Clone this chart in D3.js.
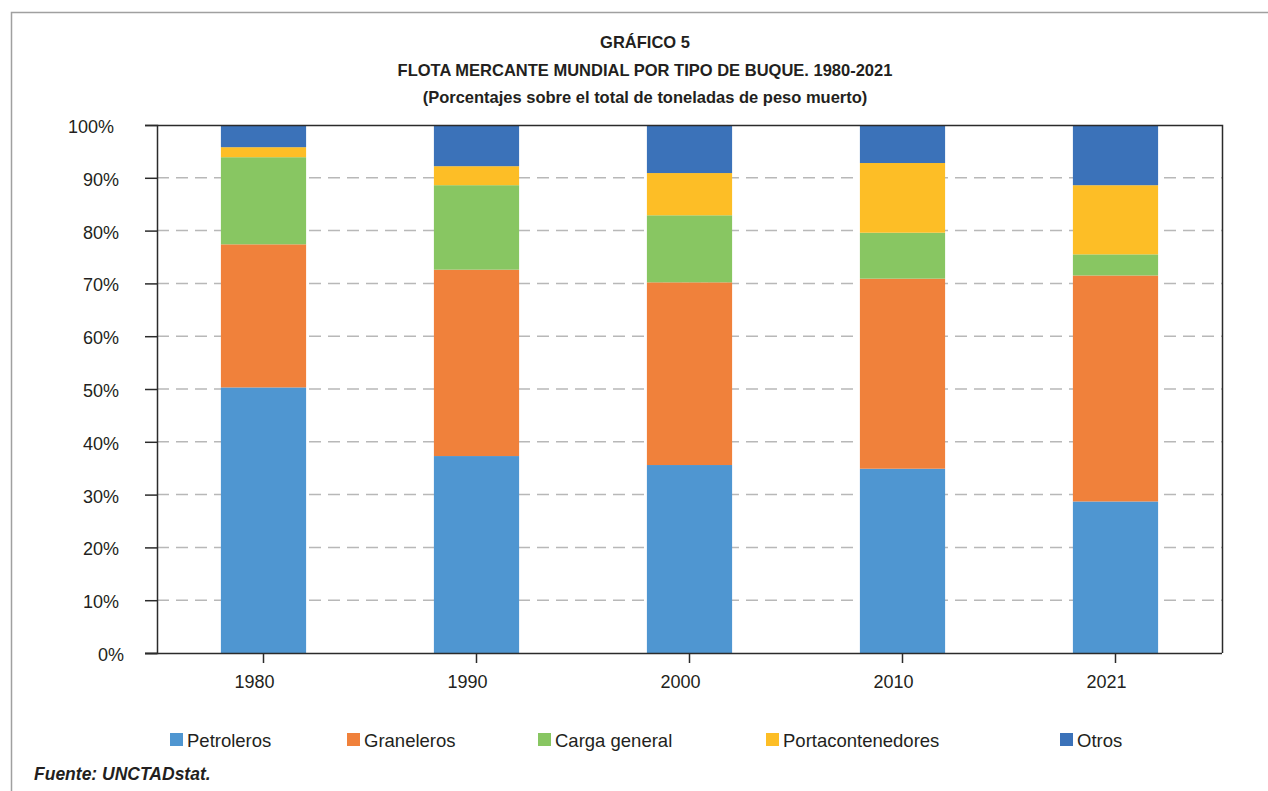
<!DOCTYPE html>
<html>
<head>
<meta charset="utf-8">
<script src="https://cdn.jsdelivr.net/npm/d3@7"></script>
<style>
  body { margin: 0; background: #fff; }
  svg { font-family: "Liberation Sans", Arial, Helvetica, sans-serif; }
</style>
</head>
<body>
<svg id="chart" width="1268" height="791"></svg>
<script>
// data (percent of total dwt)
var years = ["1980", "1990", "2000", "2010", "2021"];
var seriesNames = ["Petroleros", "Graneleros", "Carga general", "Portacontenedores", "Otros"];
var petroleros = [50.3, 37.3, 35.6, 34.9, 28.7];
var graneleros = [27.1, 35.3, 34.6, 36.0, 42.8];
var cargaGeneral = [16.5, 16.0, 12.7, 8.7, 4.0];
var portacontenedores = [1.9, 3.6, 8.0, 13.2, 13.1];
var otros = [4.2, 7.8, 9.1, 7.2, 11.4];
var yTicks = [0, 10, 20, 30, 40, 50, 60, 70, 80, 90, 100];
var colors = ["#4f96d1", "#f0813b", "#88c662", "#fdbe26", "#3b72b9"];

var values = [petroleros, graneleros, cargaGeneral, portacontenedores, otros];
var data = years.map(function (yr, i) {
    var row = { year: yr };
    seriesNames.forEach(function (k, j) { row[k] = values[j][i]; });
    return row;
});

var svg = d3.select("#chart"),
    margin = { top: 125, left: 157, right: 46, bottom: 138 },
    width = 1268 - margin.left - margin.right,
    height = 791 - margin.top - margin.bottom,
    textColor = "#231f20";

// outer frame (top + left gray lines)
svg.append("path")
    .attr("d", "M11.5,800 V12.5 H1270")
    .attr("fill", "none")
    .attr("stroke", "#a0a0a0")
    .attr("stroke-width", 1.5);

// titles
var titles = ["GRÁFICO 5", "FLOTA MERCANTE MUNDIAL POR TIPO DE BUQUE. 1980-2021", "(Porcentajes sobre el total de toneladas de peso muerto)"];
svg.append("g").selectAll("text")
    .data(titles)
    .enter().append("text")
    .attr("x", 645)
    .attr("y", function (d, i) { return 48 + i * 27.5; })
    .attr("text-anchor", "middle")
    .attr("font-size", 16.5)
    .attr("font-weight", "bold")
    .attr("fill", textColor)
    .text(function (d) { return d; });

var g = svg.append("g").attr("transform", "translate(" + margin.left + "," + margin.top + ")");

var x = d3.scaleBand()
    .domain(years)
    .range([0, width])
    .paddingInner(0.6)
    .paddingOuter(0.3);

var y = d3.scaleLinear()
    .domain([0, 100])
    .range([height, 0]);

var color = d3.scaleOrdinal().domain(seriesNames).range(colors);

// dashed gridlines
g.append("g").selectAll("line")
    .data(yTicks.filter(function (t) { return t > 0 && t < 100; }))
    .enter().append("line")
    .attr("x1", 0).attr("x2", width)
    .attr("y1", function (d) { return y(d); })
    .attr("y2", function (d) { return y(d); })
    .attr("stroke", "#b8b8b8")
    .attr("stroke-width", 1.5)
    .attr("stroke-dasharray", "12,7");

// stacked bars
var stacked = d3.stack().keys(seriesNames)(data);
g.append("g").selectAll("g")
    .data(stacked)
    .enter().append("g")
    .attr("fill", function (d) { return color(d.key); })
    .selectAll("rect")
    .data(function (d) { return d; })
    .enter().append("rect")
    .attr("x", function (d) { return x(d.data.year); })
    .attr("y", function (d) { return y(d[1]); })
    .attr("height", function (d) { return y(d[0]) - y(d[1]); })
    .attr("width", x.bandwidth());

// plot box: top and right border
g.append("path")
    .attr("d", "M0,0.5 H" + (width + 0.5) + " V" + height)
    .attr("fill", "none")
    .attr("stroke", "#2b2b2b")
    .attr("stroke-width", 1.5);

// y axis
var axisY = g.append("g")
    .call(d3.axisLeft(y).tickValues(yTicks).tickSize(12).tickPadding(26)
        .tickFormat(function (d) { return d + "%"; }));
axisY.select(".domain").attr("stroke", "#2b2b2b").attr("stroke-width", 1.5);
axisY.selectAll(".tick line").attr("stroke", "#2b2b2b").attr("stroke-width", 1.5);
axisY.selectAll("text").attr("font-size", 18).attr("fill", textColor)
    .attr("font-family", "Liberation Sans, Arial, sans-serif")
    .attr("dx", function (d) { return d === 100 ? -5 : (d === 0 ? 5 : 0); })
    .attr("dy", "0.42em");

// x axis
var axisX = g.append("g")
    .attr("transform", "translate(0," + height + ")")
    .call(d3.axisBottom(x).tickSize(10).tickPadding(12).tickSizeOuter(0));
axisX.select(".domain").attr("stroke", "#2b2b2b").attr("stroke-width", 1.5)
    .attr("d", "M-12,0.5H" + width);
axisX.selectAll(".tick line").attr("stroke", "#2b2b2b").attr("stroke-width", 1.5);
axisX.selectAll("text").attr("font-size", 18).attr("fill", textColor)
    .attr("font-family", "Liberation Sans, Arial, sans-serif")
    .attr("dx", -9);

// legend
var legendX = [170, 347, 538, 766, 1060];
var legend = svg.append("g").selectAll("g")
    .data(seriesNames)
    .enter().append("g")
    .attr("transform", function (d, i) { return "translate(" + legendX[i] + ",733)"; });

legend.append("rect")
    .attr("width", 13)
    .attr("height", 13)
    .attr("fill", color);

legend.append("text")
    .attr("x", 17)
    .attr("y", 13.5)
    .attr("font-size", 18.5)
    .attr("fill", textColor)
    .text(function (d) { return d; });

// source
svg.append("text")
    .attr("x", 34)
    .attr("y", 780)
    .attr("font-size", 17.5)
    .attr("font-weight", "bold")
    .attr("font-style", "italic")
    .attr("fill", textColor)
    .text("Fuente: UNCTADstat.");
</script>
</body>
</html>
